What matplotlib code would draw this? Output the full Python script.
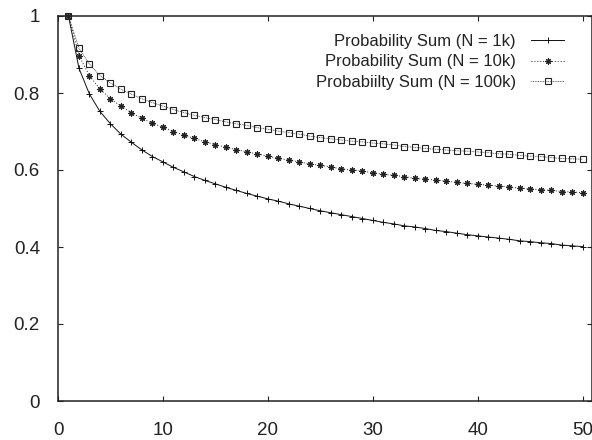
import matplotlib
matplotlib.use("Agg")
import matplotlib.pyplot as plt
import numpy as np

plt.rcParams['font.family'] = ['Liberation Sans', 'DejaVu Sans']

x_values = list(range(1, 51))

sum_1k = [1.000, 0.864, 0.797, 0.752, 0.720, 0.693, 0.672, 0.652, 0.635, 0.621,
          0.607, 0.595, 0.583, 0.573, 0.564, 0.555, 0.547, 0.539, 0.532, 0.525,
          0.519, 0.512, 0.506, 0.500, 0.494, 0.489, 0.484, 0.479, 0.474, 0.469,
          0.464, 0.460, 0.455, 0.452, 0.448, 0.443, 0.440, 0.436, 0.432, 0.429,
          0.426, 0.423, 0.420, 0.416, 0.414, 0.411, 0.409, 0.405, 0.403, 0.401]

sum_10k = [1.000, 0.897, 0.845, 0.810, 0.785, 0.766, 0.749, 0.734, 0.721, 0.711,
           0.700, 0.691, 0.682, 0.673, 0.666, 0.659, 0.653, 0.647, 0.642, 0.636,
           0.630, 0.626, 0.621, 0.616, 0.612, 0.608, 0.603, 0.600, 0.597, 0.593,
           0.589, 0.586, 0.583, 0.578, 0.576, 0.574, 0.571, 0.568, 0.565, 0.563,
           0.561, 0.558, 0.556, 0.553, 0.551, 0.549, 0.547, 0.544, 0.543, 0.541]

sum_100k = [1.000, 0.916, 0.875, 0.845, 0.826, 0.810, 0.797, 0.785, 0.775, 0.766,
            0.757, 0.749, 0.742, 0.736, 0.731, 0.725, 0.720, 0.716, 0.710, 0.706,
            0.701, 0.697, 0.693, 0.688, 0.684, 0.681, 0.678, 0.675, 0.673, 0.670,
            0.668, 0.665, 0.661, 0.659, 0.656, 0.654, 0.652, 0.650, 0.649, 0.647,
            0.645, 0.642, 0.641, 0.638, 0.636, 0.635, 0.632, 0.630, 0.629, 0.628]

labels = ["Probability Sum (N = 1k)",
          "Probability Sum (N = 10k)",
          "Probabiilty Sum (N = 100k)"]

x_ticks = [0, 10, 20, 30, 40, 50]
y_ticks = [0, 0.2, 0.4, 0.6, 0.8, 1]
y_tick_labels = ["0", "0.2", "0.4", "0.6", "0.8", "1"]

fig = plt.figure(figsize=(5.92, 4.40), dpi=100)
ax = fig.add_axes([58/592, 39/440, (592-58)/592, 385/440])

ax.plot(x_values, sum_1k, color='#111111', lw=0.7, ls='-',
        marker='+', ms=4.6, mew=0.7, label=labels[0], clip_on=False)
ax.plot(x_values, sum_10k, color='#222222', lw=0.7, ls=(0, (1, 2)),
        marker=(8, 2, 0), ms=4.4, mew=0.8, label=labels[1], clip_on=False)
ax.plot(x_values, sum_100k, color='#333333', lw=0.6, ls=(0, (1, 1)),
        marker='s', ms=4.3, mew=0.8, mfc='none', mec='#222222',
        label=labels[2], clip_on=False)

ax.set_xlim(0, 50.9)
ax.set_ylim(0, 1)
ax.set_xticks(x_ticks)
ax.set_yticks(y_ticks)
ax.set_yticklabels(y_tick_labels)

ax.tick_params(direction='in', length=3.6, width=0.8, top=True, right=True,
               labelsize=13.5, colors='#222222', labelcolor='#222222')
ax.tick_params(axis='y', pad=13)
ax.tick_params(axis='x', pad=15)
for s in ax.spines.values():
    s.set_linewidth(1.1)
    s.set_color('#222222')

leg = ax.legend(loc='upper right', bbox_to_anchor=(0.948, 0.953),
                frameon=False, fontsize=12, markerfirst=False,
                handlelength=2.0, handletextpad=0.9, labelspacing=0.32,
                borderpad=0, borderaxespad=0)
for t in leg.get_texts():
    t.set_color('#222222')

fig.savefig("out.png", dpi=100)
